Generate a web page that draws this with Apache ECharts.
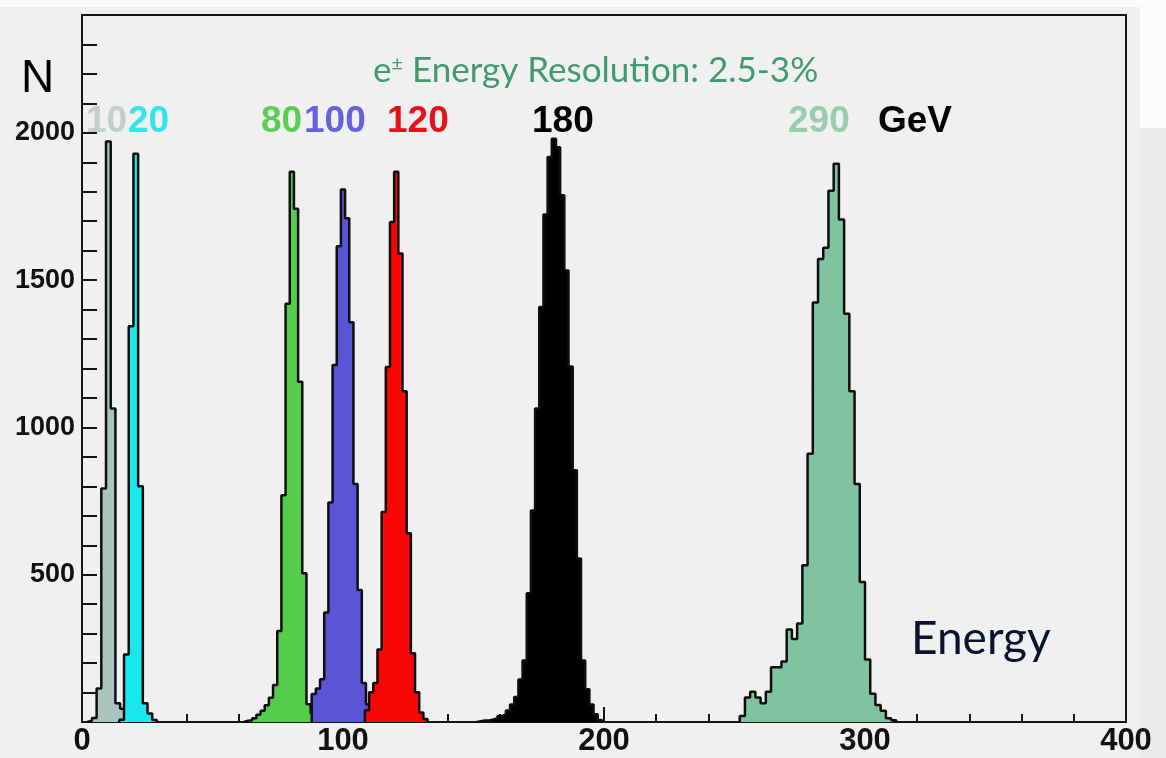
<!DOCTYPE html>
<html>
<head>
<meta charset="utf-8">
<title>e± energy resolution</title>
<script src="https://cdn.jsdelivr.net/npm/echarts@6/dist/echarts.min.js"></script>
<style>
    html, body { margin: 0; padding: 0; background: #f0f0f0; }
    #chart { width: 1166px; height: 758px; }
</style>
</head>
<body>
<div id="chart"></div>
<script>
// beam energies written above the peaks
const beamLabels = ["10", "20", "80", "100", "120", "180", "290"];
// left edge of the first bin (GeV) and bin width (GeV), one per histogram
const binStart = [2.0, 14.3, 62.0, 88.0, 108.4, 151.2, 252];
const binWidth = [1.8, 1.8, 1.6, 1.6, 1.6, 1.6, 2];
// bin contents
const counts10 = [4, 14, 114, 793, 1971, 1064, 64, 45];
const counts20 = [8, 229, 1343, 1929, 800, 64, 29, 7];
const counts80 = [4, 6, 13, 25, 38, 57, 82, 126, 309, 770, 1420, 1868, 1742, 1155, 505, 60, 30];
const counts100 = [95, 114, 145, 372, 745, 1212, 1615, 1808, 1710, 1357, 808, 448, 132, 60, 20];
const counts120 = [40, 101, 132, 246, 713, 1205, 1697, 1868, 1590, 1123, 641, 233, 101, 32, 10];
const counts180 = [3, 5, 5, 9, 13, 20, 26, 39, 59, 85, 144, 209, 437, 718, 1064, 1409, 1723, 1918,
    1980, 1951, 1788, 1533, 1207, 855, 555, 209, 111, 59, 26, 7];
const counts290 = [20, 83, 103, 83, 64, 103, 186, 186, 205, 314, 282, 334, 532, 911, 1424, 1572,
    1610, 1803, 1895, 1706, 1386, 1123, 808, 475, 212, 96, 58, 38, 13, 6];
const allCounts = [counts10, counts20, counts80, counts100, counts120, counts180, counts290];

const fillColors = ["#a9c5bd", "#19e9ef", "#56cc4d", "#5a55d5", "#fb0606", "#000000", "#80c3a1"];
const labelColors = ["#c3cecb", "#33e4ec", "#5bcd54", "#6662d9", "#e6121a", "#000000", "#98cdb1"];
const labelX = [86, 128, 261, 304, 387, 532, 788];

// axis ranges and labelled y values
const xRange = [0, 400];
const yRange = [0, 2400];
const yTickLabels = [500, 1000, 1500, 2000];

const chart = echarts.init(document.getElementById("chart"), null, { renderer: "canvas" });

// step outline of one histogram: points at left edges, closed down to zero on both sides
const histPoints = (start, width, counts) => {
    const pts = [[start, 0]];
    counts.forEach((c, i) => pts.push([+(start + i * width).toFixed(2), c]));
    pts.push([+(start + counts.length * width).toFixed(2), 0]);
    return pts;
};

const series = allCounts.map((counts, i) => ({
    name: beamLabels[i] + " GeV",
    type: "line",
    step: "end",
    symbol: "none",
    silent: true,
    z: 2 + i,
    lineStyle: { color: "#0e0e0e", width: 2.5 },
    areaStyle: { color: fillColors[i], opacity: 1 },
    data: histPoints(binStart[i], binWidth[i], counts),
}));

const textItem = (text, x, y, font, fill, rich) => ({
    type: "text",
    x,
    y,
    z: 100,
    style: { text, font, fill, verticalAlign: "middle", align: "left", rich },
});

const graphics = [
    // paper edges of the scanned figure
    { type: "rect", z: 0, shape: { x: 0, y: 0, width: 1166, height: 7 }, style: { fill: "#fbfbfb" } },
    { type: "rect", z: 0, shape: { x: 1140, y: 0, width: 26, height: 128 }, style: { fill: "#fbfbfb" } },
    { type: "rect", z: 0, shape: { x: 1140, y: 128, width: 26, height: 630 }, style: { fill: "#ebebeb" } },
    textItem("N", 21, 79, '46px "Liberation Sans"', "#000"),
    textItem("{e|e}{pm|\u00b1} Energy Resolution: 2.5-3%", 373, 71, '35px Lato', "#3f9b6d", {
        e: { font: '35px Lato', fill: "#3f9b6d" },
        pm: { font: '20px Lato', fill: "#3f9b6d", verticalAlign: "top", padding: [0, 0, 14, 0] },
    }),
    textItem("Energy", 911, 639, '46px Lato', "#0b1230"),
    textItem("GeV", 878, 122, 'bold 37px "Liberation Sans"', "#000"),
    ...beamLabels.map((t, i) => textItem(t, labelX[i], 122, 'bold 37px "Liberation Sans"', labelColors[i])),
];

const option = {
    backgroundColor: "#f0f0f0",
    animation: false,
    grid: {
        left: 82,
        right: 40,
        top: 15,
        bottom: 36,
        show: true,
        backgroundColor: "#f0f0f0",
        borderColor: "#141414",
        borderWidth: 2,
    },
    xAxis: {
        type: "value",
        min: xRange[0],
        max: xRange[1],
        interval: 100,
        axisLine: { lineStyle: { color: "#141414", width: 2 } },
        axisTick: { inside: true, length: 15, lineStyle: { color: "#141414", width: 2 } },
        minorTick: { show: true, splitNumber: 5, length: 8, lineStyle: { color: "#141414", width: 2 } },
        splitLine: { show: false },
        axisLabel: {
            margin: 4,
            color: "#111",
            fontFamily: "Liberation Sans",
            fontWeight: "bold",
            fontSize: 31,
        },
    },
    yAxis: {
        type: "value",
        min: yRange[0],
        max: yRange[1],
        interval: 100,
        axisLine: { lineStyle: { color: "#141414", width: 2 } },
        axisTick: { inside: true, length: 15, lineStyle: { color: "#141414", width: 2 } },
        splitLine: { show: false },
        axisLabel: {
            margin: 7,
            color: "#111",
            fontFamily: "Liberation Sans",
            fontWeight: "bold",
            fontSize: 27,
            formatter: (v) => (yTickLabels.includes(v) ? String(v) : ""),
        },
    },
    series,
    graphic: graphics,
};

chart.setOption(option);
</script>
</body>
</html>
